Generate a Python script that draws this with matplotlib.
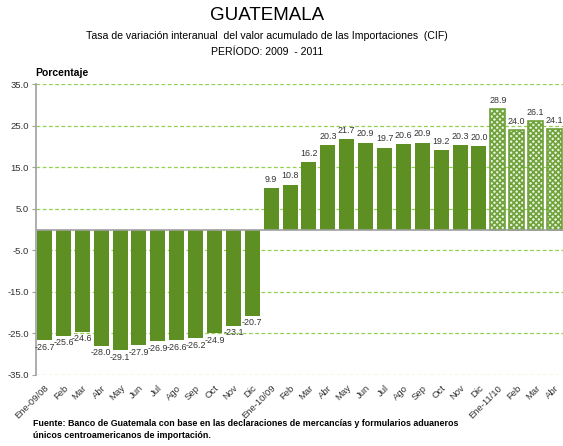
import matplotlib.pyplot as plt
import numpy as np

# data
meses = ['Ene-09/08', 'Feb', 'Mar', 'Abr', 'May', 'Jun', 'Jul', 'Ago', 'Sep', 'Oct', 'Nov', 'Dic',
         'Ene-10/09', 'Feb', 'Mar', 'Abr', 'May', 'Jun', 'Jul', 'Ago', 'Sep', 'Oct', 'Nov', 'Dic',
         'Ene-11/10', 'Feb', 'Mar', 'Abr']
valores = [-26.7, -25.6, -24.6, -28.0, -29.1, -27.9, -26.9, -26.6, -26.2, -24.9, -23.1, -20.7,
           9.9, 10.8, 16.2, 20.3, 21.7, 20.9, 19.7, 20.6, 20.9, 19.2, 20.3, 20.0,
           28.9, 24.0, 26.1, 24.1]
n_solidos = 24  # los ultimos 4 van con trama

verde = '#5E8F22'
fuente = ['Liberation Sans', 'DejaVu Sans']
plt.rcParams['font.family'] = fuente

fig = plt.figure(figsize=(5.63, 4.46), dpi=100)
ax = fig.add_axes([36/563, 1 - 375/446, 1 - 36/563, 291/446])

x = np.arange(len(valores))
ax.bar(x[:n_solidos], valores[:n_solidos], width=0.79, color=verde, zorder=3)
plt.rcParams['hatch.linewidth'] = 1.2
ax.bar(x[n_solidos:], valores[n_solidos:], width=0.79, facecolor='#E8F2DC',
       edgecolor='#6FA23A', hatch='xxxxxx', linewidth=1.2, zorder=3)

# etiquetas de valores
for xi, v in zip(x, valores):
    if v >= 0:
        ax.text(xi, v + 1.0, '%.1f' % v, ha='center', va='bottom', fontsize=6.4,
                color='#333333')
    else:
        ax.text(xi, v - 0.6, '%.1f' % v, ha='center', va='top', fontsize=6.4,
                color='#333333')

ax.set_xlim(-0.45, 27.45)
ax.set_ylim(-35, 35)
yt = [35, 25, 15, 5, -5, -15, -25, -35]
ax.set_yticks(yt)
ax.set_yticklabels(['%.1f' % t for t in yt], fontsize=6.8, color='#333333')
for t in yt:
    ax.axhline(t, color='#92D050', linestyle=(0, (3, 2)), linewidth=0.9, zorder=1)
ax.axhline(0, color='#A0A0A0', linewidth=1.2, zorder=4)

ax.set_xticks(x)
ax.set_xticklabels(meses, rotation=45, ha='right', rotation_mode='anchor',
                   fontsize=6.8, color='#333333')
ax.tick_params(axis='x', length=0, pad=6)
ax.tick_params(axis='y', length=3, color='#A0A0A0', pad=2)

for s in ['top', 'right', 'bottom']:
    ax.spines[s].set_visible(False)
ax.spines['left'].set_color('#A0A0A0')
ax.spines['left'].set_linewidth(1.2)

# titulos
cx = 267/563
fig.text(cx, 1 - 16/446, 'GUATEMALA', ha='center', va='center', fontsize=13.5)
fig.text(cx, 1 - 36/446, 'Tasa de variación interanual  del valor acumulado de las Importaciones  (CIF)',
         ha='center', va='center', fontsize=7.6)
fig.text(cx, 1 - 52/446, 'PERÍODO: 2009  - 2011', ha='center', va='center', fontsize=7.6)
fig.text(35/563, 1 - 73/446, 'Porcentaje', ha='left', va='center', fontsize=7.5,
         fontweight='bold')

fig.text(33/563, 1 - 423/446, 'Fuente: Banco de Guatemala con base en las declaraciones de mercancías y formularios aduaneros',
         ha='left', va='center', fontsize=6.4, fontweight='bold')
fig.text(33/563, 1 - 435/446, 'únicos centroamericanos de importación.',
         ha='left', va='center', fontsize=6.4, fontweight='bold')

fig.savefig('out.png', dpi=100)
